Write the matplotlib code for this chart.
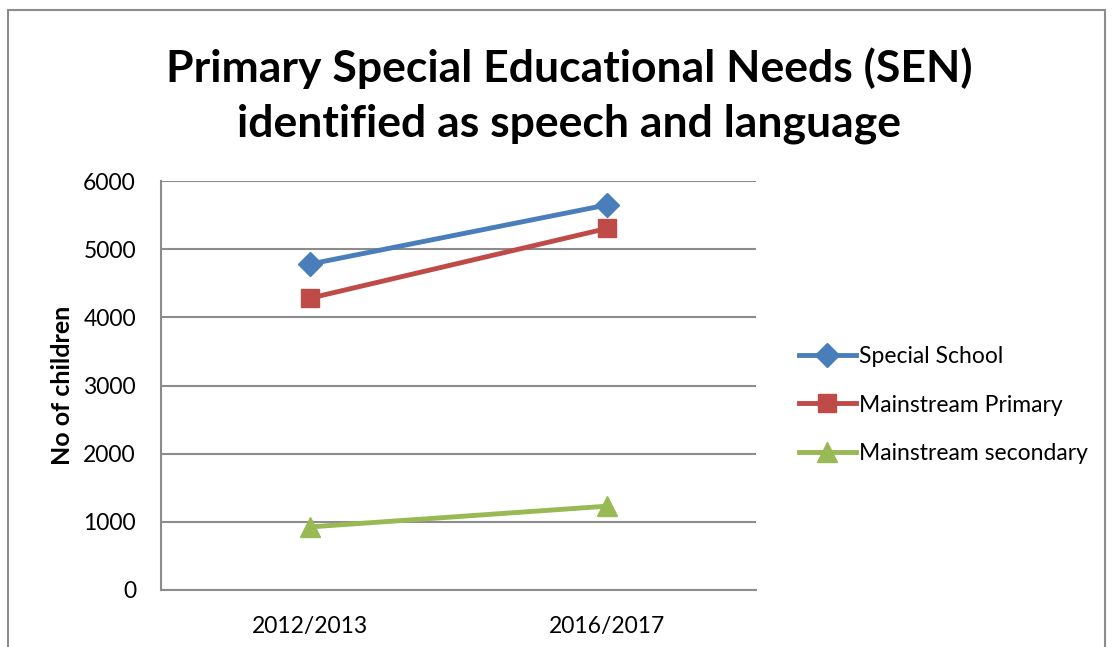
import matplotlib.pyplot as plt
from matplotlib.patches import Rectangle

years = ['2012/2013', '2016/2017']
special_school = [4780, 5650]
mainstream_primary = [4280, 5305]
mainstream_secondary = [925, 1230]
y_ticks = [0, 1000, 2000, 3000, 4000, 5000, 6000]

plt.rcParams['font.family'] = ['Lato', 'DejaVu Sans']

fig = plt.figure(figsize=(11.18, 6.47), dpi=100)
ax = fig.add_axes([161/1118, 1 - 590/647, (756-161)/1118, (590-181)/647])

# outer chart border
fig.patches.append(Rectangle((8/1118, -0.05), (1105-8)/1118, 1.05 - 10/647,
                             transform=fig.transFigure, fill=False,
                             edgecolor='#8c8c8c', linewidth=1.5))

x = range(len(years))
ax.plot(x, special_school, color='#4a7ebb', linewidth=3.5, marker='D', markersize=12,
        label='Special School')
ax.plot(x, mainstream_primary, color='#be4b48', linewidth=3.5, marker='s', markersize=13,
        label='Mainstream Primary')
ax.plot(x, mainstream_secondary, color='#98b954', linewidth=3.5, marker='^', markersize=14,
        label='Mainstream secondary')

ax.set_xlim(-0.5, 1.5)
ax.set_ylim(0, 6000)
ax.set_xticks(list(x))
ax.set_xticklabels(years)
ax.set_yticks(y_ticks)
ax.tick_params(axis='both', length=0, labelsize=16.5)
ax.tick_params(axis='y', pad=18)
ax.tick_params(axis='x', pad=19)
ax.grid(axis='y', color='#8c8c8c', linewidth=1.5)
ax.set_axisbelow(True)
for s in ['top', 'right']:
    ax.spines[s].set_visible(False)
for s in ['left', 'bottom']:
    ax.spines[s].set_color('#8c8c8c')
    ax.spines[s].set_linewidth(1.5)

ax.set_ylabel('No of children', fontsize=18, fontweight='bold', va='center')
ax.yaxis.set_label_coords((62-161)/595, (590-385)/409)

fig.text(569/1118, 1 - 68/647, 'Primary Special Educational Needs (SEN)',
         ha='center', va='center', fontsize=32, fontweight='bold')
fig.text(569/1118, 1 - 124/647, 'identified as speech and language',
         ha='center', va='center', fontsize=32, fontweight='bold')

ax.legend(loc='center left', bbox_to_anchor=(778/1118, 1 - 405/647),
          bbox_transform=fig.transFigure, frameon=False, fontsize=16.5,
          handlelength=2.5, handletextpad=0.15, labelspacing=1.2)

fig.savefig('out.png', dpi=100)
